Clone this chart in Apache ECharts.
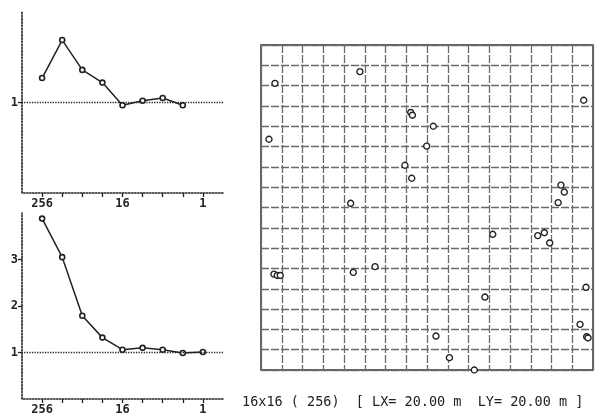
<!DOCTYPE html>
<html>
<head>
<meta charset="utf-8">
<script src="https://cdn.jsdelivr.net/npm/echarts@6/dist/echarts.min.js"></script>
<style>
html,body{margin:0;padding:0;background:#fff;}
#chart{width:600px;height:416px;}
</style>
</head>
<body>
<div id="chart"></div>
<script>
// ---- data ----
var blockSizes = [256, 128, 64, 32, 16, 8, 4, 2, 1];
var sizeLabels = [256, 16, 1];
var topValues = [1.27, 1.69, 1.36, 1.22, 0.97, 1.02, 1.05, 0.97];
var bottomValues = [3.88, 3.05, 1.79, 1.32, 1.06, 1.10, 1.06, 0.99, 1.01];
var topYTicks = [1];
var bottomYTicks = [1, 2, 3];
var pointX = [5.96, 0.84, 19.44, 9.02, 9.12, 10.38, 0.48, 9.98, 8.67, 9.08, 18.07, 18.27, 17.9, 5.4,
              13.96, 16.67, 17.07, 17.39, 0.78, 0.98, 1.16, 5.56, 6.87, 13.49, 19.58, 19.22, 19.62, 19.7,
              10.54, 11.35, 12.85];
var pointY = [18.36, 17.64, 16.6, 15.85, 15.68, 15.0, 14.2, 13.78, 12.6, 11.8, 11.38, 10.95, 10.3, 10.26,
              8.35, 8.27, 8.45, 7.82, 5.9, 5.82, 5.82, 6.01, 6.36, 4.49, 5.09, 2.81, 2.05, 1.97,
              2.09, 0.76, 0.0];
var caption = '16x16 ( 256)  [ LX= 20.00 m  LY= 20.00 m ]';
var fieldSize = 20;
var cellCount = 16;

// ---- build ----
var ink = '#222';
var mono = 'DejaVu Sans Mono';
function pairs(xs, ys) { return ys.map(function (v, i) { return [xs[i], v]; }); }
var pts = pointX.map(function (x, i) { return [x, pointY[i]]; });

function logX(gi) {
  return {
    type: 'log', logBase: 2, gridIndex: gi, min: 0.5, max: 512, inverse: true,
    axisLine: { show: true, onZero: false, lineStyle: { color: ink, type: 'dotted', width: 1.5 } },
    axisTick: { show: true, customValues: blockSizes, length: 4, lineStyle: { color: ink, width: 1.3 } },
    axisLabel: { customValues: sizeLabels, color: ink, fontFamily: mono, fontWeight: 'bold', fontSize: 12, margin: 5 },
    splitLine: { show: false }
  };
}
function valY(gi, max, ticks) {
  return {
    type: 'value', gridIndex: gi, min: 0, max: max,
    axisLine: { show: true, lineStyle: { color: ink, type: 'dotted', width: 1.6 } },
    axisTick: { show: true, customValues: ticks, length: 4, lineStyle: { color: ink, width: 1.3 } },
    axisLabel: { customValues: ticks, color: ink, fontFamily: mono, fontWeight: 'bold', fontSize: 12, margin: 4 },
    splitLine: { show: false }
  };
}
function lineSeries(gi, data) {
  return {
    type: 'line', xAxisIndex: gi, yAxisIndex: gi, data: data,
    symbol: 'circle', symbolSize: 5,
    itemStyle: { color: '#fff', borderColor: ink, borderWidth: 1.6 },
    lineStyle: { color: ink, width: 1.5 },
    animation: false,
    markLine: {
      silent: true, symbol: 'none', label: { show: false },
      lineStyle: { color: ink, type: 'dotted', width: 1.3 },
      data: [{ yAxis: 1 }]
    }
  };
}
var gridAx = function (gi) {
  return {
    type: 'value', gridIndex: gi, min: 0, max: fieldSize, interval: fieldSize / cellCount,
    axisLine: { show: false }, axisTick: { show: false }, axisLabel: { show: false },
    splitLine: { show: true, lineStyle: { color: '#6a6a6a', type: [8, 2], width: 1.3 } }
  };
};

var option = {
  animation: false,
  backgroundColor: '#fff',
  grid: [
    { left: 22, top: 12, width: 201, height: 181 },
    { left: 22, top: 213, width: 201, height: 186 },
    { left: 261, top: 45, width: 332, height: 325, show: true, borderColor: '#333', borderWidth: 1.5 }
  ],
  xAxis: [logX(0), logX(1), gridAx(2)],
  yAxis: [valY(0, 2, topYTicks), valY(1, 4, bottomYTicks), gridAx(2)],
  series: [
    lineSeries(0, pairs(blockSizes, topValues)),
    lineSeries(1, pairs(blockSizes, bottomValues)),
    {
      type: 'scatter', xAxisIndex: 2, yAxisIndex: 2, data: pts,
      symbol: 'circle', symbolSize: 6, z: 5,
      itemStyle: { color: '#fff', borderColor: ink, borderWidth: 1.4, opacity: 1 }
    }
  ],
  graphic: [
    { type: 'text', left: 242, top: 395,
      style: { text: caption, font: '13.5px "DejaVu Sans Mono"', fill: ink } }
  ]
};
var chart = echarts.init(document.getElementById('chart'), null, { renderer: 'canvas' });
chart.setOption(option);
</script>
</body>
</html>
